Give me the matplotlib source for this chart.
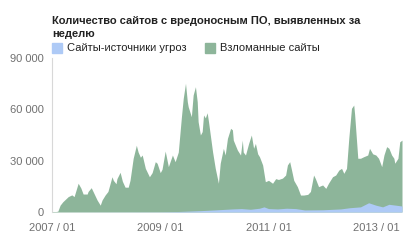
import matplotlib.pyplot as plt

# months since 2007/01 (hacked sites series)
months = [0, 0.9, 1.3, 1.8, 2.4, 3.6, 4.4, 4.9, 5.8, 6.4, 6.9, 7.8, 8.0, 8.7, 9.1,
          10.0, 10.7, 11.1, 11.8, 12.4, 13.3, 13.6, 14.2, 14.4, 15.1, 15.6, 16.2,
          16.9, 17.3, 18.0, 18.7, 19.1, 19.6, 20.0, 20.7, 21.6, 22.2, 22.9, 23.3,
          24.0, 24.4, 25.1, 25.8, 26.7, 27.3, 28.0, 28.7, 29.1, 29.6, 30.0, 30.2,
          30.9, 31.3, 31.8, 32.2, 32.4, 32.9, 33.3, 33.6, 34.0, 34.4, 34.7, 35.6,
          36.2, 36.9, 37.3, 38.0, 38.4, 38.9, 39.6, 40.0, 40.2, 41.1, 41.8, 42.2,
          42.4, 42.9, 43.6, 44.2, 44.7, 45.1, 45.6, 46.0, 46.7, 47.3, 48.0, 48.9,
          49.6, 50.2, 51.1, 51.8, 52.2, 52.7, 53.1, 53.6, 54.4, 55.1, 55.8, 56.7,
          57.3, 58.0, 58.4, 59.1, 60.0, 60.7, 61.3, 62.2, 62.9, 63.6, 64.2, 64.7,
          65.3, 65.8, 66.4, 66.9, 67.1, 67.8, 68.4, 69.1, 70.0, 70.4, 71.1, 71.8,
          72.4, 73.1, 73.6, 74.2, 74.7, 75.3, 75.8, 76.0, 76.7, 77.1, 77.6]
hacked = [300, 300, 500, 4000, 6000, 9000, 10000, 9000, 16800, 14000, 10500, 10500,
          12000, 14200, 12000, 7000, 4000, 7000, 10000, 12000, 20600, 18500, 16500,
          19500, 23200, 18000, 14500, 14500, 18500, 31400, 39000, 35000, 32000,
          33300, 25500, 20600, 23000, 29400, 28500, 23000, 25000, 35600, 26500,
          33300, 29400, 35000, 55700, 66400, 75200, 64500, 61500, 55700, 68400,
          73200, 64500, 52800, 45000, 47000, 56700, 55000, 58000, 52800, 35200,
          25500, 16800, 28500, 37200, 33300, 43000, 48900, 48000, 42000, 36200,
          33300, 42000, 35000, 33300, 40100, 45000, 37200, 40100, 34000, 32300,
          27500, 17700, 18500, 16800, 19500, 19000, 19800, 21600, 27500, 29400,
          24700, 18500, 14800, 9900, 9900, 10300, 12000, 21600, 19500, 14800,
          15800, 13800, 16800, 20600, 21600, 24500, 25500, 22600, 25500, 43000,
          60600, 62500, 57000, 31400, 31400, 32300, 33300, 37200, 34000, 33300,
          31400, 26500, 33300, 38200, 37200, 33300, 31400, 28500, 31400, 41000,
          42000]

# threat source sites series
src_months = [0, 24, 28, 30, 33, 36, 40, 42, 44, 46, 47, 48, 50, 52, 54, 56, 60,
              64, 66, 68.4, 70.2, 71.8, 73.3, 74.7, 76.2, 77.6]
sources = [0, 100, 300, 500, 800, 1200, 1800, 2000, 1600, 2200, 3000, 2000, 1800,
           2200, 2000, 1200, 1300, 1800, 2500, 3000, 5400, 4000, 3000, 4500, 4000,
           3500]

tick_pos = [0, 24, 48, 72]
tick_labels = ['2007 / 01', '2009 / 01', '2011 / 01', '2013 / 01']
y_ticks = [0, 30000, 60000, 90000]
y_labels = ['0', '30 000', '60 000', '90 000']

plt.rcParams['font.family'] = ['Liberation Sans', 'DejaVu Sans']

fig = plt.figure(figsize=(4.14, 2.49), dpi=100)
ax = fig.add_axes([52 / 414, 37 / 249, 350 / 414, 154 / 249])

green = '#8db59a'
blue = '#aecaf6'
ax.fill_between(months, hacked, color=green, lw=0)
ax.fill_between(src_months, sources, color=blue, lw=0)

ax.set_xlim(0, 77.6)
ax.set_ylim(0, 90000)
ax.set_xticks(tick_pos)
ax.set_xticklabels(tick_labels)
ax.set_yticks(y_ticks)
ax.set_yticklabels(y_labels)
ax.tick_params(length=0, labelsize=8, colors='#707070', pad=6)
ax.tick_params(axis='x', pad=8)
for s in ['top', 'right', 'bottom']:
    ax.spines[s].set_visible(False)
ax.spines['left'].set_color('#d8d8d8')
ax.spines['left'].set_linewidth(0.8)

fig.text(52 / 414, 1 - 23.5 / 249, 'Количество сайтов с вредоносным ПО, выявленных за',
         fontsize=8, fontweight='bold', color='#222222', va='baseline')
fig.text(52 / 414, 1 - 36.5 / 249, 'неделю',
         fontsize=8, fontweight='bold', color='#222222', va='baseline')

# legend
fig.patches.append(plt.Rectangle((52 / 414, 1 - 53 / 249), 10 / 414, 10 / 249,
                                 transform=fig.transFigure, color=blue))
fig.text(67 / 414, 1 - 48 / 249, 'Сайты-источники угроз', fontsize=8,
         color='#222222', va='center')
fig.patches.append(plt.Rectangle((205 / 414, 1 - 53 / 249), 10 / 414, 10 / 249,
                                 transform=fig.transFigure, color=green))
fig.text(220 / 414, 1 - 48 / 249, 'Взломанные сайты', fontsize=8,
         color='#222222', va='center')

fig.savefig('out.png', dpi=100)
